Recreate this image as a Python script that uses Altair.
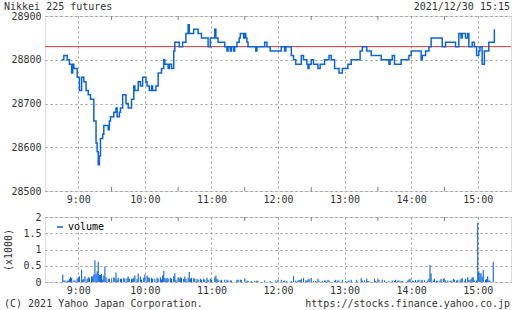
import altair as alt
import pandas as pd

TITLE = "Nikkei 225 futures"
STAMP = "2021/12/30 15:15"
FOOT_LEFT = "(C) 2021 Yahoo Japan Corporation."
FOOT_RIGHT = "https://stocks.finance.yahoo.co.jp"
LEGEND_LABEL = "volume"
PREV_CLOSE = 28830

PRICE_TIMES = [
    "8:45", "8:47", "8:50", "8:52", "8:54", "8:55", "8:56", "8:59", "9:01", "9:03",
    "9:05", "9:07", "9:09", "9:11", "9:14", "9:16", "9:17", "9:18", "9:19", "9:20",
    "9:22", "9:23", "9:27", "9:28", "9:29", "9:32", "9:34", "9:35", "9:37", "9:38",
    "9:40", "9:43", "9:45", "9:48", "9:50", "9:51", "9:54", "9:56", "9:58", "10:01",
    "10:02", "10:04", "10:06", "10:07", "10:10", "10:12", "10:15", "10:17", "10:18", "10:21",
    "10:22", "10:24", "10:26", "10:27", "10:31", "10:34", "10:37", "10:39", "10:40", "10:44",
    "10:48", "10:51", "10:57", "10:59", "11:03", "11:04", "11:06", "11:12", "11:14", "11:15",
    "11:17", "11:18", "11:20", "11:21", "11:23", "11:25", "11:26", "11:29", "11:30", "11:31",
    "11:32", "11:33", "11:40", "11:41", "11:48", "11:50", "11:53", "12:03", "12:06", "12:07",
    "12:12", "12:14", "12:16", "12:21", "12:23", "12:26", "12:27", "12:28", "12:30", "12:32",
    "12:36", "12:38", "12:42", "12:46", "12:48", "12:51", "12:55", "12:58", "13:03", "13:06",
    "13:14", "13:16", "13:20", "13:24", "13:33", "13:40", "13:41", "13:43", "13:45", "13:51",
    "13:58", "14:00", "14:09", "14:10", "14:13", "14:16", "14:18", "14:28", "14:31", "14:40",
    "14:43", "14:45", "14:46", "14:49", "14:51", "14:52", "14:55", "14:57", "14:59", "15:01",
    "15:02", "15:04", "15:06", "15:10", "15:15",
]
PRICE_VALUES = [
    28800, 28810, 28800, 28790, 28770, 28790, 28780, 28760, 28730, 28760,
    28750, 28730, 28720, 28710, 28660, 28610, 28590, 28560, 28580, 28620,
    28630, 28650, 28640, 28660, 28670, 28680, 28690, 28670, 28680, 28690,
    28720, 28700, 28690, 28710, 28740, 28730, 28750, 28740, 28760, 28750,
    28740, 28730, 28740, 28730, 28740, 28770, 28780, 28800, 28790, 28780,
    28790, 28780, 28820, 28840, 28830, 28840, 28860, 28880, 28860, 28870,
    28860, 28850, 28830, 28850, 28870, 28850, 28840, 28830, 28820, 28830,
    28820, 28830, 28820, 28830, 28840, 28850, 28860, 28850, 28860, 28850,
    28840, 28830, 28820, 28830, 28840, 28830, 28820, 28830, 28820, 28830,
    28810, 28800, 28790, 28810, 28800, 28790, 28780, 28790, 28800, 28790,
    28780, 28790, 28800, 28810, 28800, 28780, 28770, 28780, 28790, 28800,
    28820, 28830, 28820, 28810, 28800, 28790, 28800, 28810, 28790, 28800,
    28810, 28820, 28800, 28810, 28820, 28830, 28850, 28830, 28840, 28830,
    28860, 28850, 28860, 28850, 28860, 28830, 28840, 28830, 28810, 28820,
    28830, 28790, 28820, 28840, 28870,
]

VOL_TIMES = [
    "8:46", "8:47", "8:48", "8:50", "8:51", "8:52", "8:53", "8:54", "8:56", "8:57",
    "8:59", "9:00", "9:01", "9:03", "9:04", "9:05", "9:06", "9:08", "9:09", "9:10",
    "9:12", "9:13", "9:14", "9:15", "9:16", "9:17", "9:18", "9:19", "9:20", "9:21",
    "9:22", "9:23", "9:24", "9:25", "9:27", "9:28", "9:30", "9:32", "9:33", "9:34",
    "9:35", "9:36", "9:38", "9:39", "9:41", "9:42", "9:44", "9:45", "9:46", "9:48",
    "9:49", "9:50", "9:51", "9:53", "9:54", "9:56", "9:57", "9:59", "10:00", "10:02",
    "10:03", "10:04", "10:06", "10:07", "10:09", "10:11", "10:12", "10:14", "10:15", "10:16",
    "10:17", "10:18", "10:19", "10:20", "10:21", "10:23", "10:24", "10:26", "10:27", "10:28",
    "10:30", "10:31", "10:32", "10:33", "10:35", "10:36", "10:37", "10:39", "10:40", "10:41",
    "10:42", "10:44", "10:45", "10:47", "10:48", "10:50", "10:51", "10:53", "10:54", "10:56",
    "10:57", "10:59", "11:00", "11:03", "11:04", "11:05", "11:06", "11:08", "11:09", "11:12",
    "11:14", "11:15", "11:17", "11:18", "11:23", "11:24", "11:26", "11:27", "11:30", "11:32",
    "11:33", "11:36", "11:39", "11:41", "11:42", "11:48", "11:53", "11:58", "12:00", "12:03",
    "12:05", "12:06", "12:08", "12:12", "12:14", "12:16", "12:18", "12:19", "12:20", "12:21",
    "12:23", "12:25", "12:26", "12:27", "12:28", "12:30", "12:32", "12:34", "12:36", "12:37",
    "12:40", "12:42", "12:43", "12:45", "12:46", "12:51", "12:52", "12:54", "12:55", "12:58",
    "13:01", "13:03", "13:04", "13:06", "13:11", "13:15", "13:16", "13:18", "13:20", "13:21",
    "13:22", "13:27", "13:28", "13:30", "13:31", "13:34", "13:36", "13:40", "13:43", "13:45",
    "13:46", "13:48", "13:49", "13:51", "13:52", "13:57", "13:58", "13:59", "14:01", "14:02",
    "14:04", "14:06", "14:07", "14:09", "14:10", "14:12", "14:15", "14:16", "14:17", "14:18",
    "14:20", "14:21", "14:23", "14:24", "14:26", "14:27", "14:29", "14:30", "14:31", "14:33",
    "14:35", "14:36", "14:38", "14:39", "14:41", "14:42", "14:44", "14:45", "14:46", "14:48",
    "14:49", "14:51", "14:52", "14:53", "14:54", "14:55", "14:56", "14:57", "14:59", "15:00",
    "15:01", "15:02", "15:03", "15:04", "15:05", "15:07", "15:08", "15:09", "15:10", "15:11",
    "15:14",
]
VOL_VALUES = [
    0.23, 0.05, 0.05, 0.04, 0.05, 0.10, 0.15, 0.12, 0.05, 0.05,
    0.10, 0.15, 0.18, 0.38, 0.07, 0.10, 0.18, 0.10, 0.15, 0.13,
    0.18, 0.17, 0.23, 0.67, 0.25, 0.33, 0.62, 0.22, 0.22, 0.25,
    0.07, 0.20, 0.48, 0.15, 0.10, 0.10, 0.07, 0.15, 0.12, 0.29,
    0.07, 0.13, 0.10, 0.10, 0.13, 0.10, 0.12, 0.17, 0.10, 0.10,
    0.10, 0.13, 0.20, 0.10, 0.26, 0.17, 0.07, 0.13, 0.23, 0.20,
    0.15, 0.13, 0.13, 0.10, 0.10, 0.13, 0.10, 0.15, 0.08, 0.20,
    0.34, 0.12, 0.10, 0.13, 0.10, 0.13, 0.10, 0.18, 0.27, 0.07,
    0.15, 0.10, 0.15, 0.13, 0.10, 0.17, 0.10, 0.13, 0.31, 0.10,
    0.13, 0.12, 0.10, 0.10, 0.07, 0.10, 0.07, 0.10, 0.07, 0.13,
    0.07, 0.10, 0.07, 0.15, 0.20, 0.10, 0.07, 0.05, 0.07, 0.07,
    0.07, 0.05, 0.05, 0.05, 0.07, 0.07, 0.07, 0.07, 0.10, 0.05,
    0.03, 0.03, 0.03, 0.05, 0.03, 0.05, 0.03, 0.05, 0.07, 0.07,
    0.03, 0.05, 0.03, 0.03, 0.18, 0.05, 0.05, 0.06, 0.06, 0.10,
    0.12, 0.05, 0.05, 0.08, 0.10, 0.12, 0.03, 0.03, 0.10, 0.03,
    0.03, 0.05, 0.05, 0.07, 0.05, 0.03, 0.07, 0.05, 0.05, 0.07,
    0.03, 0.03, 0.05, 0.07, 0.07, 0.12, 0.05, 0.05, 0.10, 0.03,
    0.03, 0.10, 0.03, 0.05, 0.07, 0.08, 0.05, 0.03, 0.05, 0.03,
    0.07, 0.05, 0.05, 0.03, 0.04, 0.05, 0.08, 0.10, 0.05, 0.03,
    0.06, 0.05, 0.07, 0.05, 0.07, 0.05, 0.05, 0.10, 0.52, 0.26,
    0.05, 0.10, 0.05, 0.03, 0.05, 0.10, 0.10, 0.08, 0.05, 0.05,
    0.03, 0.05, 0.10, 0.07, 0.05, 0.07, 0.05, 0.10, 0.12, 0.03,
    0.10, 0.15, 0.07, 0.05, 0.10, 0.15, 0.15, 0.05, 0.05, 1.82,
    0.33, 0.28, 0.26, 0.17, 0.37, 0.07, 0.10, 0.18, 0.05, 0.05,
    0.62,
]

HOURS = [9, 10, 11, 12, 13, 14, 15]
HALF_HOURS = ["9:30", "10:30", "11:30", "12:30", "13:30", "14:30"]
PRICE_TICKS = [28500, 28600, 28700, 28800, 28900]
VOL_TICKS = [0, 0.5, 1, 1.5, 2]


def to_min(t):
    h, m = t.split(":")
    return int(h) * 60 + int(m)


price_df = pd.DataFrame({"t": [to_min(t) for t in PRICE_TIMES], "price": PRICE_VALUES})
vol_df = pd.DataFrame({"t": [to_min(t) for t in VOL_TIMES], "vol": VOL_VALUES})
half_df = pd.DataFrame({"t": [to_min(t) for t in HALF_HOURS]})

FONT = "DejaVu Sans Mono"
TXT = "#333333"
GRID = "#999999"
FRAME = "#808080"
BLUE = "#0a64dc"
RED = "#dd3333"
W = 466
H1 = 175
H2 = 65
XDOM = [510, 930]

xscale = alt.Scale(domain=XDOM, nice=False, zero=False)
xaxis = alt.Axis(values=[h * 60 for h in HOURS], labelExpr="floor(datum.value/60) + ':00'",
                 grid=True, gridDash=[2, 3], gridColor=GRID, ticks=False, domain=False,
                 labelFont=FONT, labelFontSize=10, labelColor=TXT, labelPadding=3, title=None)

pscale = alt.Scale(domain=[28500, 28900], nice=False, zero=False)
paxis = alt.Axis(values=PRICE_TICKS, format="d", grid=True, gridDash=[2, 3], gridColor=GRID,
                 ticks=False, domain=False, labelFont=FONT, labelFontSize=10,
                 labelColor=TXT, labelPadding=4, title=None)
vscale = alt.Scale(domain=[0, 2], nice=False)
vaxis = alt.Axis(values=VOL_TICKS, format="~g", grid=True, gridDash=[2, 3], gridColor=GRID,
                 ticks=False, domain=False, labelFont=FONT, labelFontSize=10,
                 labelColor=TXT, labelPadding=4, title="(x1000)", titleFont=FONT,
                 titleFontSize=10, titleFontWeight="normal", titleColor=TXT,
                 titlePadding=9)


def tick_layers(height):
    base = alt.Chart(half_df)
    top = base.mark_rule(color=FRAME, strokeWidth=1).encode(
        x=alt.X("t:Q", scale=xscale, axis=xaxis), y=alt.value(0), y2=alt.value(4))
    bot = base.mark_rule(color=FRAME, strokeWidth=1).encode(
        x=alt.X("t:Q", scale=xscale, axis=xaxis), y=alt.value(height - 4), y2=alt.value(height))
    return [top, bot]


# ---- price panel ----
price_line = alt.Chart(price_df).mark_line(interpolate="step-after", color=BLUE, strokeWidth=1.5).encode(
    x=alt.X("t:Q", scale=xscale, axis=xaxis),
    y=alt.Y("price:Q", scale=pscale, axis=paxis),
)
prev_rule = alt.Chart(pd.DataFrame({"p": [PREV_CLOSE]})).mark_rule(color=RED, strokeWidth=1).encode(
    y=alt.Y("p:Q", scale=pscale, axis=paxis))
title_df = pd.DataFrame({"left": [TITLE], "right": [STAMP]})
title_left = alt.Chart(title_df).mark_text(font=FONT, fontSize=10, color=TXT, align="left",
                                           baseline="middle").encode(
    text="left:N", x=alt.value(-41), y=alt.value(-9))
title_right = alt.Chart(title_df).mark_text(font=FONT, fontSize=10, color=TXT, align="right",
                                            baseline="middle").encode(
    text="right:N", x=alt.value(W - 1), y=alt.value(-9))

top_chart = alt.layer(prev_rule, price_line, *tick_layers(H1), title_left, title_right).properties(
    width=W, height=H1)

# ---- volume panel ----
vol_bars = alt.Chart(vol_df).mark_rule(strokeWidth=1.1, color=BLUE).encode(
    x=alt.X("t:Q", scale=xscale, axis=xaxis),
    y=alt.Y("vol:Q", scale=vscale, axis=vaxis),
    y2=alt.datum(0),
)
leg_df = pd.DataFrame({"label": [LEGEND_LABEL]})
leg_sym = alt.Chart(leg_df).mark_rule(color=BLUE, strokeWidth=1.5).encode(
    x=alt.value(12), x2=alt.value(18), y=alt.value(10))
leg_txt = alt.Chart(leg_df).mark_text(font=FONT, fontSize=10, color="#000000", align="left",
                                      baseline="middle").encode(
    text="label:N", x=alt.value(23), y=alt.value(10))
foot_df = pd.DataFrame({"left": [FOOT_LEFT], "right": [FOOT_RIGHT]})
foot_left = alt.Chart(foot_df).mark_text(font=FONT, fontSize=10, color=TXT, align="left",
                                         baseline="middle").encode(
    text="left:N", x=alt.value(-41), y=alt.value(87))
foot_right = alt.Chart(foot_df).mark_text(font=FONT, fontSize=10, color=TXT, align="right",
                                          baseline="middle").encode(
    text="right:N", x=alt.value(W - 1), y=alt.value(87))

bottom_chart = alt.layer(vol_bars, *tick_layers(H2), leg_sym, leg_txt, foot_left, foot_right).properties(
    width=W, height=H2)

chart = alt.vconcat(top_chart, bottom_chart, spacing=6).properties(
    padding={"left": 3, "top": 1, "right": 0, "bottom": 0}
).configure_view(stroke=FRAME, strokeWidth=1).configure(background="white")

chart.save("out.html", embed_options={"renderer": "svg", "actions": False})
